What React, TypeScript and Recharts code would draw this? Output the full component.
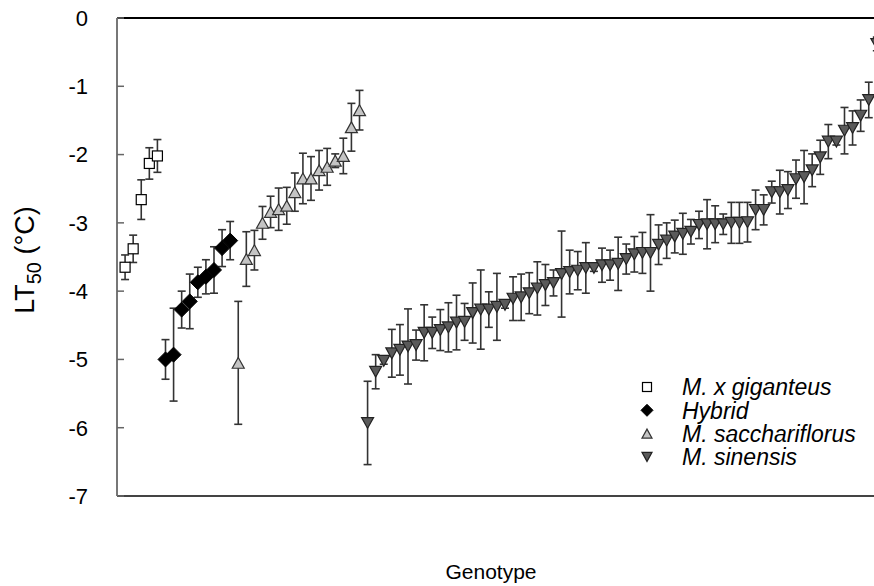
import {
  Customized,
  ErrorBar,
  ReferenceLine,
  Scatter,
  ScatterChart,
  XAxis,
  YAxis,
} from "recharts";

// LT50 (°C) per genotype, sorted within each group, with the error bar half-length
const giganteusLt50 = [-3.65, -3.38, -2.66, -2.13, -2.02];
const giganteusErr = [0.18, 0.2, 0.29, 0.23, 0.24];

const hybridLt50 = [-5.0, -4.93, -4.27, -4.15, -3.87, -3.79, -3.69, -3.37, -3.26];
const hybridErr = [0.29, 0.68, 0.27, 0.4, 0.22, 0.25, 0.34, 0.27, 0.28];

const sacchLt50 = [
  -5.05, -3.53, -3.4, -3.0, -2.84, -2.8, -2.75, -2.55, -2.35, -2.35, -2.23, -2.18, -2.09, -2.02, -1.6, -1.35,
];
const sacchErr = [0.9, 0.4, 0.29, 0.24, 0.23, 0.31, 0.27, 0.28, 0.37, 0.32, 0.29, 0.27, 0.1, 0.26, 0.35, 0.29];

const sinensisLt50 = [
  -5.93, -5.18, -5.02, -4.91, -4.86, -4.81, -4.79, -4.61, -4.61, -4.57, -4.53, -4.46, -4.45, -4.32, -4.27, -4.27,
  -4.23, -4.2, -4.11, -4.09, -4.03, -3.96, -3.91, -3.88, -3.75, -3.72, -3.7, -3.66, -3.66, -3.62, -3.62, -3.6,
  -3.53, -3.46, -3.44, -3.44, -3.32, -3.26, -3.2, -3.16, -3.13, -3.03, -3.02, -3.02, -3.02, -3.0, -3.0, -2.99,
  -2.81, -2.81, -2.55, -2.55, -2.52, -2.36, -2.33, -2.23, -2.04, -1.81, -1.81, -1.65, -1.61, -1.43, -1.2, -0.38,
];
const sinensisErr = [
  0.61, 0.25, 0.05, 0.35, 0.37, 0.55, 0.22, 0.41, 0.23, 0.3, 0.36, 0.4, 0.27, 0.44, 0.58, 0.26,
  0.49, 0.05, 0.32, 0.34, 0.3, 0.39, 0.3, 0.19, 0.63, 0.32, 0.28, 0.37, 0.05, 0.25, 0.22, 0.39,
  0.22, 0.26, 0.3, 0.56, 0.29, 0.26, 0.24, 0.3, 0.18, 0.2, 0.36, 0.27, 0.15, 0.3, 0.3, 0.29,
  0.29, 0.22, 0.16, 0.32, 0.27, 0.28, 0.39, 0.24, 0.25, 0.25, 0.05, 0.34, 0.25, 0.23, 0.26, 0.1,
];

const yTicks = [0, -1, -2, -3, -4, -5, -6, -7];

const legendItems = ["M. x giganteus", "Hybrid", "M. sacchariflorus", "M. sinensis"];

function toPoints(values: number[], errors: number[], start: number) {
  return values.map((y, i) => ({ x: start + i, y, err: errors[i] }));
}

const giganteusData = toPoints(giganteusLt50, giganteusErr, 0);
const hybridData = toPoints(hybridLt50, hybridErr, giganteusLt50.length);
const sacchData = toPoints(sacchLt50, sacchErr, giganteusLt50.length + hybridLt50.length);
const sinensisData = toPoints(
  sinensisLt50,
  sinensisErr,
  giganteusLt50.length + hybridLt50.length + sacchLt50.length,
);

const FONT = "'Liberation Sans', Arial, sans-serif";

function Square({ cx, cy, s = 10 }: any) {
  return <rect x={cx - s / 2} y={cy - s / 2} width={s} height={s} fill="#fff" stroke="#000" strokeWidth={1.2} />;
}

function Diamond({ cx, cy, s = 7.5 }: any) {
  return (
    <polygon
      points={`${cx},${cy - s} ${cx + s},${cy} ${cx},${cy + s} ${cx - s},${cy}`}
      fill="#000"
      stroke="#000"
      strokeWidth={1}
    />
  );
}

function TriUp({ cx, cy, s = 6 }: any) {
  const h = s * 0.9;
  return (
    <polygon
      points={`${cx},${cy - h} ${cx + s},${cy + h} ${cx - s},${cy + h}`}
      fill="#c4c4c4"
      stroke="#333"
      strokeWidth={1.2}
    />
  );
}

function TriDown({ cx, cy, s = 6 }: any) {
  const h = s * 0.9;
  return (
    <polygon
      points={`${cx - s},${cy - h} ${cx + s},${cy - h} ${cx},${cy + h}`}
      fill="#5a5a5a"
      stroke="#222"
      strokeWidth={1.2}
    />
  );
}

function YTick({ y, payload }: any) {
  return (
    <g>
      <line x1={117} x2={124} y1={y} y2={y} stroke="#666" strokeWidth={1.5} />
      <text x={88} y={y} dy="0.36em" textAnchor="end" fontSize={22} fontFamily={FONT} fill="#000">
        {payload.value}
      </text>
    </g>
  );
}

function Labels() {
  const markers = [Square, Diamond, TriUp, TriDown];
  return (
    <g fontFamily={FONT}>
      <text transform="translate(34,260) rotate(-90)" textAnchor="middle" fontSize={27} fill="#000">
        LT
        <tspan fontSize={20} dy={7}>
          50
        </tspan>
        <tspan dy={-7}> (°C)</tspan>
      </text>
      <text x={491} y={579} textAnchor="middle" fontSize={21} fill="#000">
        Genotype
      </text>
      {legendItems.map((name, i) => {
        const Mark = markers[i];
        const cy = 387 + i * 23.3;
        const size = i === 0 ? 9 : i === 1 ? 6 : 5;
        return (
          <g key={name}>
            <Mark cx={647} cy={cy} s={size} />
            <text x={682} y={cy} dy="0.36em" fontSize={23} fontStyle="italic" fill="#000">
              {name}
            </text>
          </g>
        );
      })}
    </g>
  );
}

export default function App() {
  return (
    <div
      style={{
        position: "fixed",
        left: 0,
        top: 0,
        width: 874,
        height: 586,
        overflow: "hidden",
        background: "#fff",
      }}
    >
      <ScatterChart width={893} height={586} margin={{ top: 18, right: 0, bottom: 90, left: 0 }}>
        <XAxis type="number" dataKey="x" domain={[-1, 95]} hide />
        <YAxis
          type="number"
          dataKey="y"
          domain={[-7, 0]}
          ticks={yTicks}
          width={117}
          tickLine={false}
          axisLine={{ stroke: "#777", strokeWidth: 2 }}
          tick={<YTick />}
          interval={0}
        />
        <ReferenceLine y={0} stroke="#000" strokeWidth={2} />
        <ReferenceLine y={-7} stroke="#444" strokeWidth={2} />
        <Scatter data={giganteusData} shape={<Square />} isAnimationActive={false}>
          <ErrorBar dataKey="err" direction="y" width={4} stroke="#333" strokeWidth={1.6} />
        </Scatter>
        <Scatter data={hybridData} shape={<Diamond />} isAnimationActive={false}>
          <ErrorBar dataKey="err" direction="y" width={4} stroke="#333" strokeWidth={1.6} />
        </Scatter>
        <Scatter data={sacchData} shape={<TriUp />} isAnimationActive={false}>
          <ErrorBar dataKey="err" direction="y" width={4} stroke="#333" strokeWidth={1.6} />
        </Scatter>
        <Scatter data={sinensisData} shape={<TriDown />} isAnimationActive={false}>
          <ErrorBar dataKey="err" direction="y" width={4} stroke="#333" strokeWidth={1.6} />
        </Scatter>
        <Customized component={<Labels />} />
      </ScatterChart>
    </div>
  );
}
